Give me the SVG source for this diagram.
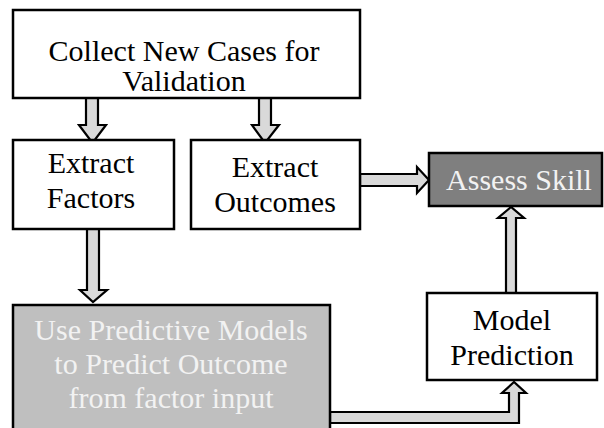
<svg xmlns="http://www.w3.org/2000/svg" width="604" height="428" viewBox="0 0 604 428">
  <style>
    .box { stroke: #000; stroke-width: 2.5; }
    .plain { fill: #fff; }
    .dark { fill: #7f7f7f; }
    .mid { fill: #bfbfbf; }
    .arrow { fill: #d9d9d9; stroke: #000; stroke-width: 2.2; stroke-linejoin: miter; }
    text { font-family: "Liberation Serif", "Times New Roman", serif; font-size: 30px; text-anchor: middle; }
    .ink { fill: #000; }
    .light { fill: #f2f2f2; }
  </style>
  <rect width="604" height="428" fill="#fff"/>

  <g id="connectors">
    <!-- Collect -> Extract Factors -->
    <polygon class="arrow" points="86,98 98,98 98,125 106,125 92.5,143 79,125 86,125"/>
    <!-- Collect -> Extract Outcomes -->
    <polygon class="arrow" points="259,98 271,98 271,125 279,125 265,143 252,125 259,125"/>
    <!-- Extract Outcomes -> Assess Skill -->
    <polygon class="arrow" points="360,174 417,174 417,167 429,180 417,193 417,186 360,186"/>
    <!-- Extract Factors -> Use Predictive Models -->
    <polygon class="arrow" points="87,229 99,229 99,290 107,290 93,302 80,290 87,290"/>
    <!-- Model Prediction -> Assess Skill -->
    <polygon class="arrow" points="506,293 506,218 498,218 511,207 524,218 516,218 516,293"/>
    <!-- Use Predictive Models -> Model Prediction (elbow) -->
    <polygon class="arrow" points="330,412 509,412 509,393 502,393 514,382 526,393 519,393 519,423 330,423"/>
  </g>

  <g id="collect">
    <rect class="box plain" x="13" y="10" width="347" height="88"/>
    <text class="ink" x="184" y="61">Collect New Cases for</text>
    <text class="ink" x="184" y="91">Validation</text>
  </g>

  <g id="extract-factors">
    <rect class="box plain" x="13" y="140" width="161" height="89"/>
    <text class="ink" x="91" y="173">Extract</text>
    <text class="ink" x="91" y="208">Factors</text>
  </g>

  <g id="extract-outcomes">
    <rect class="box plain" x="191" y="140" width="169" height="89"/>
    <text class="ink" x="275" y="177">Extract</text>
    <text class="ink" x="275" y="212">Outcomes</text>
  </g>

  <g id="assess-skill">
    <rect class="box dark" x="429" y="153" width="173" height="53"/>
    <text class="light" x="519" y="190">Assess Skill</text>
  </g>

  <g id="predictive-models">
    <rect class="box mid" x="13" y="305" width="317" height="130"/>
    <text class="light" x="171" y="340">Use Predictive Models</text>
    <text class="light" x="171" y="374">to Predict Outcome</text>
    <text class="light" x="171" y="408">from factor input</text>
  </g>

  <g id="model-prediction">
    <rect class="box plain" x="427" y="293" width="170" height="87"/>
    <text class="ink" x="512" y="330">Model</text>
    <text class="ink" x="512" y="365">Prediction</text>
  </g>
</svg>
